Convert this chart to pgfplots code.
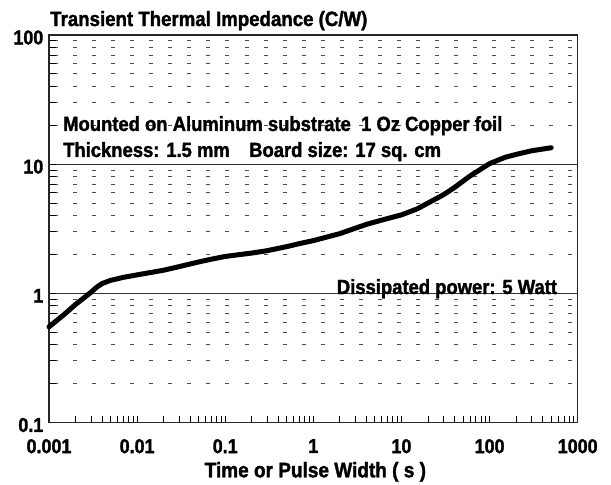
\documentclass[border=0pt]{standalone}
\usepackage{fontspec}
\setmainfont{Liberation Sans}[FakeStretch=0.9, BoldFeatures={FakeBold=1.6}]
\usepackage{pgfplots}
\pgfplotsset{compat=1.18}
\pgfplotstableread{
x y
0.001 0.55
0.0015 0.69
0.002 0.82
0.003 1.02
0.0035 1.12
0.004 1.19
0.005 1.26
0.007 1.33
0.01 1.39
0.02 1.51
0.03 1.61
0.05 1.75
0.07 1.84
0.1 1.93
0.15 2.0
0.2 2.05
0.3 2.14
0.5 2.3
0.7 2.43
1 2.56
2 2.9
4 3.42
7 3.8
10 4.05
15 4.5
20 5.0
30 5.8
40 6.6
60 8.1
100 10.1
150 11.3
200 11.9
300 12.7
500 13.4
}\datatable
\begin{document}
\begin{tikzpicture}
\begin{loglogaxis}[
 at={(0,0)}, anchor=south west, scale only axis,
 width=528.7bp, height=387.5bp,
 xmin=0.001, xmax=1000, ymin=0.1, ymax=100,
 clip=false,
 axis line style={black!85, line width=1.2bp},
 tick pos=left, tick align=inside,
 xtick={0.001,0.01,0.1,1,10,100,1000},
 xticklabels={0.001,0.01,0.1,1,10,100,1000},
 ytick={0.1,1,10,100},
 yticklabels={0.1,1,10,100},
 minor xtick={0.002,0.003,0.004,0.005,0.006,0.007,0.008,0.009,0.02,0.03,0.04,0.05,0.06,0.07,0.08,0.09,0.2,0.3,0.4,0.5,0.6,0.7,0.8,0.9,2,3,4,5,6,7,8,9,20,30,40,50,60,70,80,90,200,300,400,500,600,700,800,900},
 minor ytick={0.2,0.3,0.4,0.5,0.6,0.7,0.8,0.9,2,3,4,5,6,7,8,9,20,30,40,50,60,70,80,90},
 major tick length=7bp, minor tick length=7bp,
 every tick/.style={black, line width=0.9bp},
 ymajorgrids, yminorgrids,
 major grid style={black!80, line width=1bp},
 minor grid style={black!70, line width=0.9bp, dash pattern=on 4bp off 15.05bp, dash phase=14bp},
 xticklabel style={font=\bfseries\fontsize{20}{24}\selectfont, anchor=north, inner sep=0pt, yshift=-16.5bp},
 yticklabel style={font=\bfseries\fontsize{20}{24}\selectfont, anchor=east, inner sep=0pt, xshift=-5.5bp, yshift=-2.5bp},
]
\addplot[black, line width=5bp, line join=round, line cap=round] table[x=x,y=y]{\datatable};
\node[anchor=base west, inner sep=0pt, font=\bfseries\fontsize{20.8}{24}\selectfont] at (rel axis cs:0.002,1.0232) {Transient Thermal Impedance (C/W)};
\node[anchor=base west, inner sep=0pt, font=\bfseries\fontsize{20.55}{24}\selectfont] at (rel axis cs:0.0265,0.7523) {Mounted on Aluminum substrate\ \ 1 Oz Copper foil};
\node[anchor=base west, inner sep=0pt, font=\bfseries\fontsize{20.55}{24}\selectfont] at (rel axis cs:0.0265,0.6852) {Thickness: 1.5 mm};
\node[anchor=base west, inner sep=0pt, font=\bfseries\fontsize{20.55}{24}\selectfont] at (rel axis cs:0.3783,0.6852) {Board size: 17 sq. cm};
\node[anchor=base west, inner sep=0pt, font=\bfseries\fontsize{20.55}{24}\selectfont] at (rel axis cs:0.5442,0.3316) {Dissipated power: 5 Watt};
\node[anchor=base, inner sep=0pt, font=\bfseries\fontsize{21.2}{24}\selectfont] at (rel axis cs:0.5,0) [xshift=2bp, yshift=-54.8bp] {Time or Pulse Width ( s )};
\end{loglogaxis}
\pgfresetboundingbox
\path[use as bounding box] (-49bp,-62.5bp) rectangle (562bp,422.5bp);
\end{tikzpicture}
\end{document}
